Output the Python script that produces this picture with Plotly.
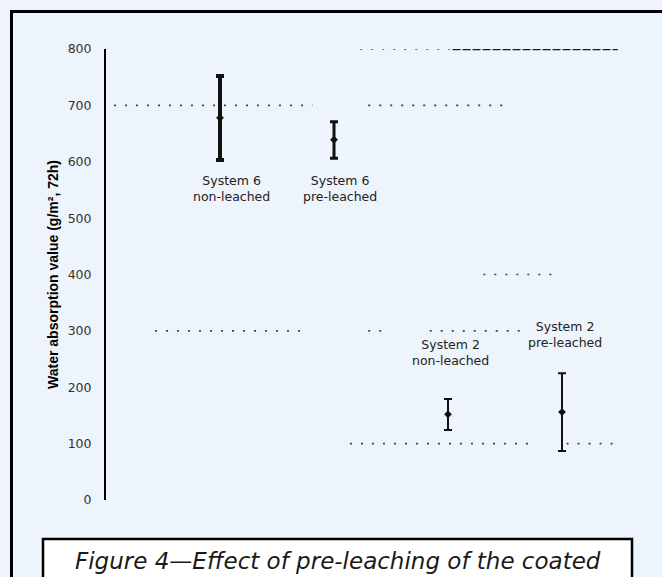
import plotly.graph_objects as go

# ---- data ----
categories = ["System 6<br>non-leached", "System 6<br>pre-leached",
              "System 2<br>non-leached", "System 2<br>pre-leached"]
cat_pos = [1, 2, 3, 4]
means = [678, 639, 152, 156]
upper = [752, 671, 179, 225]
lower = [603, 606, 124, 87]
yticks = [0, 100, 200, 300, 400, 500, 600, 700, 800]

# faint scan artefact dotted rules: (level, x start, x end) in category units
dot_levels = [700, 700, 800, 400, 300, 300, 300, 100, 100]
dot_x0 = [0.07, 2.30, 2.23, 3.31, 0.43, 2.30, 2.84, 2.14, 4.04]
dot_x1 = [1.81, 3.50, 3.04, 3.92, 1.72, 2.49, 3.69, 3.75, 4.45]
dash_levels = [800]
dash_x0 = [3.04]
dash_x1 = [4.49]

# label anchor levels (value units)
label_y = [553, 553, 261, 294]
label_dx = [0.10, 0.05, 0.02, 0.03]

# ---- styles ----
bar_thick = [4, 3, 2, 2]

fig = go.Figure()

for lv, a, b in zip(dot_levels, dot_x0, dot_x1):
    fig.add_trace(go.Scatter(x=[a, b], y=[lv, lv], mode="lines",
                             line=dict(color="#444444", width=1.6, dash="2px,9px"),
                             hoverinfo="skip", showlegend=False))
for lv, a, b in zip(dash_levels, dash_x0, dash_x1):
    fig.add_trace(go.Scatter(x=[a, b], y=[lv, lv], mode="lines",
                             line=dict(color="#1a1a1a", width=2.5, dash="8px,2px"),
                             hoverinfo="skip", showlegend=False))

for i in range(len(categories)):
    fig.add_trace(go.Scatter(
        x=[cat_pos[i]], y=[means[i]], mode="markers",
        marker=dict(symbol="diamond", size=6, color="#111111"),
        error_y=dict(type="data", symmetric=False,
                     array=[upper[i] - means[i]],
                     arrayminus=[means[i] - lower[i]],
                     color="#111111", thickness=bar_thick[i], width=4),
        showlegend=False, hoverinfo="skip"))
    fig.add_annotation(x=cat_pos[i] + label_dx[i], y=label_y[i], text=categories[i],
                       showarrow=False, xanchor="center", yanchor="middle",
                       font=dict(family="DejaVu Sans", size=12.5, color="#222222"))

L, W, T, H = 106, 534, 49, 451

def px_x(p):
    return (p - L) / W

def px_y(p):
    return (T + H - p) / H

shapes = [
    # outer frame
    dict(type="rect", xref="paper", yref="paper",
         x0=px_x(11.5), x1=px_x(700), y0=px_y(620), y1=px_y(11.5),
         line=dict(color="black", width=3), fillcolor="rgba(0,0,0,0)", layer="below"),
    # caption box
    dict(type="rect", xref="paper", yref="paper",
         x0=px_x(43), x1=px_x(632), y0=px_y(620), y1=px_y(539),
         line=dict(color="black", width=2.5), fillcolor="white", layer="above"),
]

fig.add_annotation(xref="paper", yref="paper", x=px_x(73), y=px_y(576),
                   text="<i>Figure 4—Effect of pre-leaching of the coated</i>",
                   showarrow=False, xanchor="left", yanchor="bottom",
                   font=dict(family="DejaVu Sans", size=23, color="#1a1a1a"))

fig.update_layout(
    width=662, height=577,
    margin=dict(l=L, r=662 - L - W, t=T, b=577 - T - H),
    paper_bgcolor="#EEF4FB", plot_bgcolor="#EEF4FB",
    shapes=shapes,
    xaxis=dict(range=[0, W / 114], showgrid=False, zeroline=False,
               showticklabels=False, showline=False, fixedrange=True),
    yaxis=dict(range=[0, 800], tickvals=yticks, showgrid=False, zeroline=False,
               showline=True, linecolor="black", linewidth=2, ticks="",
               ticklabelstandoff=10,
               tickfont=dict(family="DejaVu Sans", size=12.5, color="#333333"),
               title=dict(text="<b>Water absorption value (g/m², 72h)</b>",
                          standoff=6,
                          font=dict(family="Liberation Sans", size=14, color="black"))),
)

fig.write_html("out.html")
